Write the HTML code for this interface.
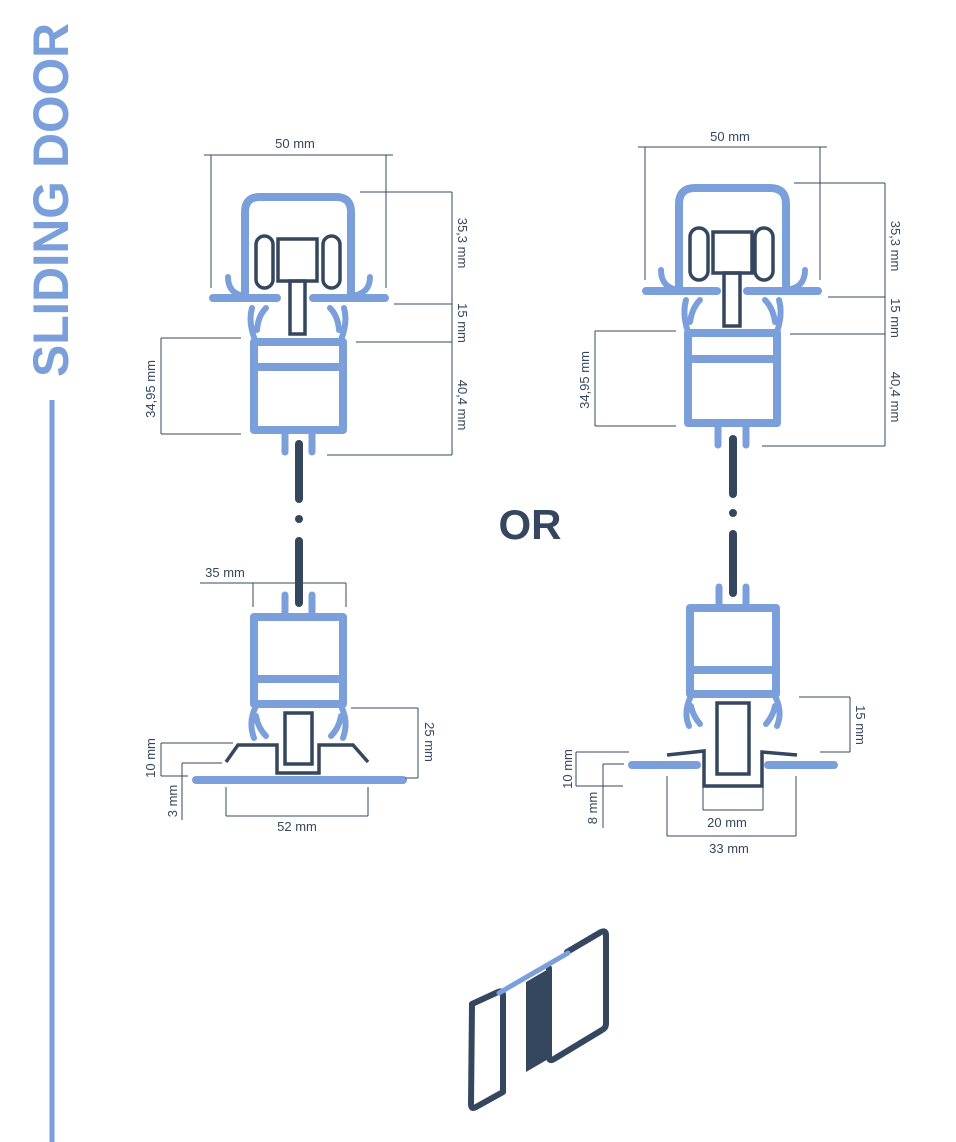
<!DOCTYPE html>
<html><head><meta charset="utf-8"><style>
html,body{margin:0;padding:0;background:#fff;}
svg{display:block}
text{font-family:"Liberation Sans",sans-serif;fill:#34475e;font-size:13px}
</style></head><body>
<svg width="956" height="1142" viewBox="0 0 956 1142" xmlns="http://www.w3.org/2000/svg">
<!-- title -->
<text transform="translate(68,377) rotate(-90)" textLength="354" lengthAdjust="spacingAndGlyphs" style="font-size:50px;font-weight:bold;fill:#7b9fdb">SLIDING DOOR</text>
<line x1="52" y1="400" x2="52" y2="1142" stroke="#7b9fdb" stroke-width="5"/>

<g fill="none" stroke-linecap="round" stroke-linejoin="round">
<!-- LEFT TOP -->
<path d="M245,296 V212 Q245,197 260,197 H336 Q351,197 351,212 V296" stroke="#7b9fdb" stroke-width="8"/>
<path d="M213,298 H277 M313,298 H385" stroke="#7b9fdb" stroke-width="8"/>
<path d="M228,277 Q228,294 245,296 M370,277 Q370,294 351,296" stroke="#7b9fdb" stroke-width="6"/>
<path d="M255,340 Q248,322 252,308 M257,330 Q258,316 266,308 M341,340 Q348,322 344,308 M339,330 Q338,316 330,308" stroke="#7b9fdb" stroke-width="6"/>
<rect x="254" y="342" width="89" height="88" stroke="#7b9fdb" stroke-width="8"/>
<line x1="254" y1="367" x2="343" y2="367" stroke="#7b9fdb" stroke-width="8"/>
<path d="M285,430 V452 M312,430 V452" stroke="#7b9fdb" stroke-width="7"/>
<rect x="256" y="236" width="17" height="52" rx="8.5" stroke="#34475e" stroke-width="3.5"/>
<rect x="323" y="236" width="17" height="52" rx="8.5" stroke="#34475e" stroke-width="3.5"/>
<rect x="278" y="239" width="39" height="42" stroke="#34475e" stroke-width="3.5" stroke-linejoin="miter"/>
<rect x="290" y="281" width="15" height="53" stroke="#34475e" stroke-width="3.5" stroke-linejoin="miter"/>
<path d="M299,444 V499 M299,519 V519 M299,541 V603" stroke="#34475e" stroke-width="8"/>

<!-- LEFT BOTTOM -->
<path d="M285,595 V615 M312,595 V615" stroke="#7b9fdb" stroke-width="7"/>
<rect x="254" y="617" width="89" height="87" stroke="#7b9fdb" stroke-width="8"/>
<line x1="254" y1="679" x2="343" y2="679" stroke="#7b9fdb" stroke-width="8"/>
<path d="M256,706 Q248,722 254,738 M256,716 Q258,728 266,736 M341,706 Q349,722 343,738 M341,716 Q339,728 331,736" stroke="#7b9fdb" stroke-width="6"/>
<path d="M226,762 L238,745 H277 V773 H319 V745 H353 L368,762" stroke="#34475e" stroke-width="3.5" stroke-linecap="butt" stroke-linejoin="miter"/>
<rect x="285" y="713" width="27" height="51" stroke="#34475e" stroke-width="3.5" stroke-linejoin="miter"/>
<line x1="196" y1="780" x2="403" y2="780" stroke="#7b9fdb" stroke-width="8"/>

<!-- RIGHT TOP -->
<path d="M679,290 V204 Q679,188 695,188 H770 Q786,188 786,204 V290" stroke="#7b9fdb" stroke-width="8"/>
<path d="M646,291 H717 M747,291 H818" stroke="#7b9fdb" stroke-width="8"/>
<path d="M661,270 Q661,288 679,290 M805,270 Q805,288 786,290" stroke="#7b9fdb" stroke-width="6"/>
<path d="M688,332 Q682,314 686,300 M690,322 Q692,308 700,300 M777,332 Q783,314 779,300 M775,322 Q773,308 765,300" stroke="#7b9fdb" stroke-width="6"/>
<rect x="688" y="333" width="89" height="90" stroke="#7b9fdb" stroke-width="8"/>
<line x1="688" y1="359" x2="777" y2="359" stroke="#7b9fdb" stroke-width="8"/>
<path d="M718,423 V445 M746,423 V445" stroke="#7b9fdb" stroke-width="7"/>
<rect x="690" y="228" width="18" height="52" rx="9" stroke="#34475e" stroke-width="3.5"/>
<rect x="755" y="228" width="18" height="52" rx="9" stroke="#34475e" stroke-width="3.5"/>
<rect x="713" y="232" width="39" height="41" stroke="#34475e" stroke-width="3.5" stroke-linejoin="miter"/>
<rect x="724" y="273" width="16" height="53" stroke="#34475e" stroke-width="3.5" stroke-linejoin="miter"/>
<path d="M733,439 V494 M733,513 V513 M733,534 V593" stroke="#34475e" stroke-width="8"/>

<!-- RIGHT BOTTOM -->
<path d="M719,587 V605 M746,587 V605" stroke="#7b9fdb" stroke-width="7"/>
<rect x="690" y="608" width="86" height="86" stroke="#7b9fdb" stroke-width="8"/>
<line x1="690" y1="670" x2="776" y2="670" stroke="#7b9fdb" stroke-width="8"/>
<path d="M691,696 Q683,712 689,726 M691,706 Q693,716 700,724 M775,696 Q783,712 777,726 M775,706 Q773,716 766,724" stroke="#7b9fdb" stroke-width="6"/>
<path d="M667,755 L704,751 V786 H762 V752 L797,755" stroke="#34475e" stroke-width="3.5" stroke-linecap="butt" stroke-linejoin="miter"/>
<rect x="717" y="703" width="32" height="71" stroke="#34475e" stroke-width="3.5" stroke-linejoin="miter"/>
<path d="M632,765 H697 M768,765 H834" stroke="#7b9fdb" stroke-width="8"/>

<!-- icon -->
<path d="M472,1004 L498,992 Q503,990 503,995 V1092 L476,1107 Q471,1110 471,1104 Z" stroke="#34475e" stroke-width="6"/>
<path d="M567,952 L601,932 Q606,930 606,935 V1024 Q606,1028 602,1030 L554,1059 Q549,1062 549,1057 V968" stroke="#34475e" stroke-width="6"/>
<polygon points="526,982 550,968 550,1058 526,1072" fill="#34475e" stroke="none"/>
<line x1="499" y1="993" x2="568" y2="953" stroke="#7b9fdb" stroke-width="5"/>
</g>

<!-- dimension lines -->
<g stroke="#34475e" stroke-width="1" fill="none">
<path d="M204,155 H393 M211,155 V288 M386,155 V288"/>
<path d="M452,192 V455 M360,192 H452 M394,304 H452 M356,342 H452 M327,455 H452"/>
<path d="M161,338 V434 M161,338 H241 M161,434 H241"/>
<path d="M200,583 H346 M253,583 V607 M346,583 V607"/>
<path d="M418,708 V778 M351,708 H418 M405,778 H418"/>
<path d="M161,743 V776 M161,743 H233 M161,776 H188"/>
<path d="M182,763 V820 M182,763 H222"/>
<path d="M226,816 H368 M226,787 V816 M368,787 V816"/>

<path d="M638,147 H827 M645,147 V280 M820,147 V280"/>
<path d="M885,183 V446 M794,183 H885 M828,297 H885 M790,334 H885 M762,446 H885"/>
<path d="M595,331 V426 M595,331 H676 M595,426 H676"/>
<path d="M850,697 V752 M799,697 H850 M820,752 H850"/>
<path d="M576,752 V786 M576,752 H629 M576,786 H623"/>
<path d="M603,764 V828 M603,764 H624"/>
<path d="M703,786 V810 M763,786 V810 M703,810 H763"/>
<path d="M667,776 V836 M796,776 V836 M667,836 H796"/>
</g>

<text x="295" y="148" text-anchor="middle">50 mm</text>
<text transform="translate(458,243) rotate(90)" text-anchor="middle">35,3 mm</text>
<text transform="translate(458,323) rotate(90)" text-anchor="middle">15 mm</text>
<text transform="translate(458,405) rotate(90)" text-anchor="middle">40,4 mm</text>
<text transform="translate(155,389) rotate(-90)" text-anchor="middle">34,95 mm</text>
<text x="225" y="577" text-anchor="middle">35 mm</text>
<text transform="translate(425,742) rotate(90)" text-anchor="middle">25 mm</text>
<text transform="translate(155,758) rotate(-90)" text-anchor="middle">10 mm</text>
<text transform="translate(177,801) rotate(-90)" text-anchor="middle">3 mm</text>
<text x="297" y="831" text-anchor="middle">52 mm</text>

<text x="730" y="141" text-anchor="middle">50 mm</text>
<text transform="translate(891,246) rotate(90)" text-anchor="middle">35,3 mm</text>
<text transform="translate(891,318) rotate(90)" text-anchor="middle">15 mm</text>
<text transform="translate(891,397) rotate(90)" text-anchor="middle">40,4 mm</text>
<text transform="translate(589,380) rotate(-90)" text-anchor="middle">34,95 mm</text>
<text transform="translate(856,725) rotate(90)" text-anchor="middle">15 mm</text>
<text transform="translate(572,769) rotate(-90)" text-anchor="middle">10 mm</text>
<text transform="translate(597,808) rotate(-90)" text-anchor="middle">8 mm</text>
<text x="727" y="827" text-anchor="middle">20 mm</text>
<text x="729" y="853" text-anchor="middle">33 mm</text>

<text x="530" y="539" text-anchor="middle" style="font-size:42px;font-weight:bold">OR</text>
</svg>
</body></html>
